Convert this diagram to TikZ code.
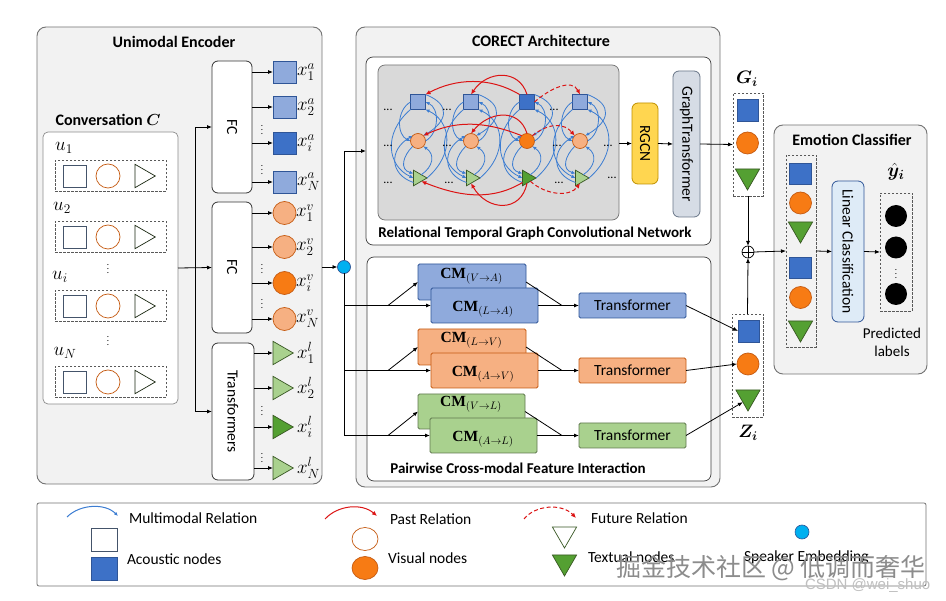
\RequirePackage{fix-cm}
\documentclass[tikz,border=0pt]{standalone}
\usepackage{amsmath}
\usepackage{bm}
\usepackage{fontspec}
\setmainfont{Carlito}
\newfontfamily\cjk{Noto Sans CJK SC}
\newfontfamily\serifb{Liberation Serif}
\newfontfamily\lsans{Liberation Sans}
\usetikzlibrary{arrows.meta,calc,shapes.geometric}
\definecolor{acoL}{RGB}{143,170,220}
\definecolor{acoD}{RGB}{61,113,199}
\definecolor{acoB}{RGB}{47,85,151}
\definecolor{visL}{RGB}{246,176,130}
\definecolor{visD}{RGB}{247,123,20}
\definecolor{visB}{RGB}{197,90,17}
\definecolor{texL}{RGB}{169,209,142}
\definecolor{texD}{RGB}{84,160,50}
\definecolor{texB}{RGB}{56,87,35}
\definecolor{spkC}{RGB}{0,176,240}
\definecolor{rgcnF}{RGB}{255,214,80}
\definecolor{rgcnB}{RGB}{191,144,0}
\definecolor{gtfF}{RGB}{214,220,229}
\definecolor{lclF}{RGB}{222,235,247}
\definecolor{panelF}{RGB}{242,242,242}
\definecolor{graphF}{RGB}{217,217,217}
\definecolor{relR}{RGB}{220,20,20}
\definecolor{relB}{RGB}{60,125,210}
\definecolor{slate}{RGB}{68,84,106}
\newcommand\cmlab[2]{$\text{\serifb\bfseries CM}_{(#1\rightarrow #2)}$}
\begin{document}
\begin{tikzpicture}[x=1pt,y=-1pt,>={Latex[length=5pt,width=4pt]},
  every node/.style={inner sep=0pt,outer sep=0pt},
  panel/.style={draw=black!55,fill=panelF,rounded corners=9pt,line width=0.9pt},
  inbox/.style={draw=black!75,fill=white,rounded corners=7pt,line width=0.7pt},
  ttl/.style={font=\fontsize{16}{19}\selectfont\bfseries},
  txt/.style={font=\fontsize{15.5}{18}\selectfont},
  mlab/.style={font=\fontsize{19}{21}\selectfont},
  cml/.style={font=\fontsize{15.5}{18}\selectfont},
  vd/.style={font=\fontsize{9}{10}\selectfont},
  gdots/.style={font=\fontsize{12}{14}\selectfont},
  wbox/.style={draw=black!80,fill=white,rounded corners=6pt,line width=0.8pt,rotate=-90,font=\fontsize{15.5}{18}\selectfont},
  dbox/.style={draw=black!65,line width=0.6pt,dash pattern=on 2.5pt off 1.5pt},
  sqL/.style={rectangle,draw=acoB,fill=acoL,line width=0.7pt,minimum width=23,minimum height=22},
  ciL/.style={circle,draw=visB,fill=visL,line width=0.7pt,minimum size=23},
  trR/.style={regular polygon,regular polygon sides=3,shape border rotate=-90,draw=texB,fill=texL,line width=0.7pt,minimum size=27},
  trDn/.style={regular polygon,regular polygon sides=3,shape border rotate=180,draw=texB,fill=texD,line width=0.7pt,minimum size=28},
  cmbox/.style={rectangle,line width=0.8pt,rounded corners=1.5pt},
  cn/.style={draw=black,line width=0.8pt,->},
  ln/.style={draw=black,line width=0.8pt},
  bl/.style={draw=relB,line width=0.8pt,-{Latex[length=4pt,width=3.5pt]}},
  rd/.style={draw=relR,line width=1pt,-{Latex[length=5pt,width=4.5pt]}},
  rdd/.style={rd,dash pattern=on 4pt off 2.5pt}]
\useasboundingbox (0,0) rectangle (946,601);
\fill[white] (0,0) rectangle (946,601);

% ================= Unimodal encoder =================
\node[panel,minimum width=285,minimum height=457] (enc) at (179.5,255.5) {};
\node[ttl] (encT) at (174,42) {Unimodal Encoder};
\node[ttl] (convT) at (108,120) {Conversation $\bm{C}$};
\node[inbox,draw=black!45,rounded corners=5pt,minimum width=135,minimum height=272] (conv) at (110.5,268) {};
\foreach \r/\yy/\lab/\lx/\ly in {1/176/u_1/64/148,2/237/u_2/62/208,3/306/u_i/60/277,4/382/u_N/65/353}{
  \node[dbox,minimum width=111,minimum height=31] (du\r) at (110.5,\yy) {};
  \node[sqL,fill=white,draw=slate] (us\r) at (74.5,\yy) {};
  \node[ciL,fill=white,minimum size=24] (uc\r) at (108,\yy) {};
  \node[trR,fill=white,draw=black!55!texB] (ut\r) at (141.75,\yy) {};
  \node[mlab] (ul\r) at (\lx,\ly) {$\lab$};
}
\node[vd] (cd1) at (108,266) {$\vdots$};
\node[vd] (cd2) at (108,338) {$\vdots$};

\node[wbox,minimum width=132,minimum height=40] (fc1) at (232,127) {FC};
\node[wbox,minimum width=131,minimum height=40] (fc2) at (232,267.5) {FC};
\node[wbox,minimum width=137,minimum height=42] (tr) at (233,411.5) {Transformers};
\coordinate (j) at (195,268);
\draw[cn] (conv.east) -- (fc2.south);
\draw[cn] (j) |- (fc1.south);
\draw[cn] (j) |- (tr.south);

\foreach \i/\yy/\fa/\sub in {1/72/acoL/1,2/107/acoL/2,3/143/acoD/i,4/182/acoL/N}{
  \node[sqL,fill=\fa] (a\i) at (284.5,\yy) {};
  \node[mlab,anchor=west] (xa\i) at (297,\yy) {$x_{\sub}^{a}$};
  \draw[cn] (fc1.north |- a\i) -- (a\i.west);
}
\foreach \i/\yy/\fv/\sub in {1/213/visL/1,2/247/visL/2,3/283/visD/i,4/319/visL/N}{
  \node[ciL,fill=\fv] (v\i) at (284.5,\yy) {};
  \node[mlab,anchor=west] (xv\i) at (296,\yy) {$x_{\sub}^{v}$};
  \draw[cn] (fc2.north |- v\i) -- (v\i.west);
}
\foreach \i/\yy/\ft/\sub in {1/353/texL/1,2/388/texL/2,3/427/texD/i,4/468/texL/N}{
  \node[trR,fill=\ft] (l\i) at (279.75,\yy) {};
  \node[mlab,anchor=west] (xl\i) at (297,\yy) {$x_{\sub}^{l}$};
  \draw[cn] (tr.north |- l\i) -- (l\i.west);
}
\node[vd] (ad1) at (262,127) {$\vdots$};
\node[vd] (ad2) at (262,167) {$\vdots$};
\node[vd] (vd1) at (262,266) {$\vdots$};
\node[vd] (vd2) at (262,301) {$\vdots$};
\node[vd] (ld1) at (262,408) {$\vdots$};
\node[vd] (ld2) at (262,455) {$\vdots$};

\node[circle,draw=acoB,fill=spkC,minimum size=13,line width=0.7pt] (spk) at (344,267) {};
\draw[cn] (enc.east |- spk) -- (spk.west);

% ================= CORECT =================
\node[panel,minimum width=364,minimum height=460] (cor) at (538,257) {};
\node[ttl] (corT) at (541,41) {CORECT Architecture};
\node[inbox,minimum width=345,minimum height=188] (rel) at (538.5,151) {};
\node[inbox,minimum width=344,minimum height=224] (pw) at (539,369) {};
\node[draw=black!55,fill=graphF,rounded corners=7pt,minimum width=241,minimum height=155,line width=0.7pt] (gb) at (498.5,142.5) {};
\node[ttl,font=\fontsize{15}{18}\selectfont\bfseries] (relT) at (535,233) {Relational Temporal Graph Convolutional Network};
\node[ttl,font=\fontsize{15}{18}\selectfont\bfseries] (pwT) at (518,468) {Pairwise Cross-modal Feature Interaction};

% graph nodes
\foreach \c/\xx/\fa/\fv/\ft in {1/418/acoL/visL/texL,2/471/acoL/visL/texL,3/527/acoD/visD/texD,4/580/acoL/visL/texL}{
  \node[sqL,fill=\fa,minimum width=15,minimum height=15] (s\c) at (\xx,102) {};
  \node[ciL,fill=\fv,minimum size=15] (c\c) at (\xx,141) {};
  \node[trR,fill=\ft,minimum size=18] (t\c) at (\xx,178) {};
}
\foreach \c in {1,2,3,4}{
  \draw[bl] (s\c.west) .. controls +(-14,8) and +(-14,-6) .. (c\c.west);
  \draw[bl] (s\c.south west) .. controls +(-28,24) and +(-26,-12) .. (t\c.west);
  \draw[bl] (c\c.south west) .. controls +(-10,10) and +(-14,-4) .. (t\c.north west);
  \draw[bl] (t\c.south west) .. controls +(-24,-8) and +(-24,14) .. (c\c.north west);
  \draw[bl] (c\c.east) .. controls +(14,-8) and +(14,6) .. (s\c.east);
  \draw[bl] (t\c.east) .. controls +(28,-24) and +(26,12) .. (s\c.south east);
  \draw[bl] (t\c.north east) .. controls +(12,-8) and +(12,8) .. (c\c.south east);
  \draw[bl] (s\c.north east) .. controls +(26,10) and +(24,-14) .. (c\c.north east);
}
\draw[rd] (s3.north west) .. controls +(-30,-18) and +(30,-16) .. (s1.north east);
\draw[rd] (s3.north) .. controls +(-8,-26) and +(16,-24) .. (s2.north);
\draw[rdd] (s3.east) .. controls +(16,-14) and +(-8,-16) .. (s4.north);
\draw[rd] (c3.north west) .. controls +(-40,-16) and +(30,-14) .. (c1.north east);
\draw[rd] (c3.north) .. controls +(-8,-26) and +(18,-22) .. (c2.north);
\draw[rdd] (c3.north east) .. controls +(18,-14) and +(-10,-12) .. (c4.north west);
\draw[rd] (t3.south west) .. controls +(-30,18) and +(40,16) .. (t1.south east);
\draw[rd] (t3.south) .. controls +(-6,30) and +(16,28) .. (t2.south);
\draw[rdd] (t3.south east) .. controls +(16,14) and +(-10,14) .. (t4.south);
\foreach \n/\px/\py in {g1/388/110,g2/447/110,g3/554/110,g4/388/146,g5/447/146,g6/557/146,g7/608/146,g8/388/183,g9/449/183,g10/559/183,g11/612/178}{
  \node[gdots] (\n) at (\px,\py) {...};
}

\node[wbox,fill=rgcnF,draw=rgcnB,minimum width=81,minimum height=26] (rg) at (645,143.5) {RGCN};
\node[wbox,fill=gtfF,draw=slate!80,minimum width=146,minimum height=27] (gt) at (686.5,144) {GraphTransformer};
\draw[cn] (gb.east |- rg.south) -- (rg.south);
\draw[cn] (rg.north) -- (gt.south);

% cross-modal
\node[cmbox,draw=acoB,fill=acoL,minimum width=108,minimum height=36] (cmb1) at (472,282) {};
\node[cml,anchor=base] (cmb1t) at (471.5,279) {\cmlab{V}{A}};
\node[cmbox,draw=acoB,fill=acoL,minimum width=107,minimum height=35] (cmf1) at (484.5,305.5) {};
\node[cml,anchor=base] (cmf1t) at (483,312) {\cmlab{L}{A}};
\node[cmbox,draw=visB,fill=visL,minimum width=108,minimum height=36] (cmb2) at (472,347) {};
\node[cml,anchor=base] (cmb2t) at (471.5,343) {\cmlab{L}{V}};
\node[cmbox,draw=visB,fill=visL,minimum width=107,minimum height=35] (cmf2) at (484.5,370.5) {};
\node[cml,anchor=base] (cmf2t) at (483,377) {\cmlab{A}{V}};
\node[cmbox,draw=texB!80,fill=texL,minimum width=107,minimum height=35] (cmb3) at (471.5,411.5) {};
\node[cml,anchor=base] (cmb3t) at (471,407) {\cmlab{V}{L}};
\node[cmbox,draw=texB!80,fill=texL,minimum width=107,minimum height=35] (cmf3) at (483.5,435.5) {};
\node[cml,anchor=base] (cmf3t) at (483,442) {\cmlab{A}{L}};

\node[cmbox,draw=acoB,fill=acoL,minimum width=107,minimum height=25,txt] (tf1) at (632.5,305.5) {Transformer};
\node[cmbox,draw=visB,fill=visL,minimum width=107,minimum height=25,txt] (tf2) at (632.5,370.5) {Transformer};
\node[cmbox,draw=texB!80,fill=texL,minimum width=107,minimum height=25,txt] (tf3) at (632.5,435.5) {Transformer};

\coordinate (m1) at (562,305.5);
\coordinate (m2) at (562,370.5);
\coordinate (m3) at (562,435.5);
\draw[ln] (cmb1.east) -- (m1);
\draw[ln] (cmb2.east) -- (m2);
\draw[ln] (cmb3.east) -- (m3);
\draw[cn] (cmf1.east) -- (tf1.west);
\draw[cn] (cmf2.east) -- (tf2.west);
\draw[cn] (cmf3.east) -- (tf3.west);

% speaker links
\coordinate (b1) at (388,305.5);
\coordinate (b2) at (388,370.5);
\coordinate (b3) at (388,435.5);
\draw[cn] (spk.north) |- (rel.west);
\draw[ln] (spk.south) -- (spk.south |- b3) -- (b3);
\draw[ln] (spk.south |- b1) -- (b1);
\draw[ln] (spk.south |- b2) -- (b2);
\draw[cn] (b1) -- (cmf1.west);
\draw[cn] (b2) -- (cmf2.west);
\draw[cn] (b3) -- (cmf3.west);
\draw[cn] (b1) -- (cmb1.west);
\draw[cn] (b2) -- (cmb2.west);
\draw[cn] (b3) -- (cmb3.west);

% ================= G_i / Z_i =================
\node[dbox,minimum width=30,minimum height=103] (gd) at (748,144.5) {};
\node[sqL,fill=acoD,minimum width=21,minimum height=22] (g1) at (747.5,110) {};
\node[ciL,fill=visD,minimum size=22] (g2) at (747.5,143) {};
\node[trDn] (g3) at (747.5,176) {};
\node[font=\fontsize{18}{20}\selectfont] (gT) at (747,79) {$\bm{G_i}$};
\draw[cn] (gt.north) -- (gd.west);

\node[circle,draw=black,minimum size=12,line width=0.7pt] (pl) at (748,252) {};
\draw[line width=0.7pt] (pl.north) -- (pl.south) (pl.west) -- (pl.east);

\node[dbox,minimum width=31,minimum height=103] (zd) at (747.5,365.5) {};
\node[sqL,fill=acoD,minimum width=21,minimum height=22] (z1) at (748.5,331) {};
\node[ciL,fill=visD,minimum size=22] (z2) at (748,364) {};
\node[trDn] (z3) at (748,397) {};
\node[font=\fontsize{18}{20}\selectfont] (zT) at (748,433) {$\bm{Z_i}$};
\draw[cn] (tf1.east) -- (z1.west);
\draw[cn] (tf2.east) -- (z2.west);
\draw[cn] (tf3.east) -- (z3.south west);
\draw[cn] (gd.south) -- (pl.north);
\draw[cn] (zd.north) -- (pl.south);

% ================= Emotion classifier =================
\node[panel,minimum width=153,minimum height=249] (ec) at (850.5,249.5) {};
\node[ttl] (ecT) at (852,140) {Emotion Classifier};
\node[dbox,minimum width=30,minimum height=192] (ecd) at (801,251) {};
\node[sqL,fill=acoD,minimum width=22,minimum height=21] (e1) at (800.5,173.5) {};
\node[ciL,fill=visD,minimum size=22] (e2) at (800.5,203) {};
\node[trDn] (e3) at (800.5,229) {};
\node[sqL,fill=acoD,minimum width=22,minimum height=21] (e4) at (800.5,267.5) {};
\node[ciL,fill=visD,minimum size=22] (e5) at (800.5,297.5) {};
\node[trDn] (e6) at (800.5,328) {};
\node[wbox,fill=lclF,draw=acoB,minimum width=141,minimum height=32] (lc) at (848,251.5) {Linear Classification};
\node[dbox,minimum width=32,minimum height=118] (pd) at (896,252) {};
\node[circle,fill=black,minimum size=22] (p1) at (896,216) {};
\node[circle,fill=black,minimum size=22] (p2) at (896,247.5) {};
\node[vd] (pdd) at (896,271) {$\vdots$};
\node[circle,fill=black,minimum size=22] (p3) at (896,294) {};
\node[font=\fontsize{19}{21}\selectfont] (yT) at (896,172) {$\hat{\bm{y}}_{\bm{i}}$};
\node[txt,align=center,font=\fontsize{15}{18}\selectfont] (predT) at (892,342) {Predicted\\labels};
\draw[cn] (pl.east) -- (ecd.west);
\draw[cn] (ecd.east) -- (lc.south);
\draw[cn] (lc.north) -- (pd.west);

% ================= Legend =================
\node[draw=black!55,fill=white,rounded corners=2pt,minimum width=889,minimum height=83,line width=0.8pt] (lg) at (481.5,544.5) {};
\coordinate (lma) at (67,517);
\coordinate (lmb) at (118,516);
\draw[bl,line width=1pt] (lma) .. controls (80,504) and (105,503) .. (lmb);
\node[txt,anchor=west] (lmT) at (129,518) {Multimodal Relation};
\coordinate (lpa) at (325,519);
\coordinate (lpb) at (377,516);
\draw[rd] (lpa) .. controls (338,505) and (362,503) .. (lpb);
\node[txt,anchor=west] (lpT) at (390,519) {Past Relation};
\coordinate (lfa) at (524,519);
\coordinate (lfb) at (576,518);
\draw[rdd] (lfa) .. controls (535,505) and (562,503) .. (lfb);
\node[txt,anchor=west] (lfT) at (591,518) {Future Relation};
\node[sqL,fill=white,draw=slate,minimum width=26,minimum height=23] (lq1) at (104,539.5) {};
\node[sqL,fill=acoD,minimum width=26,minimum height=23] (lq2) at (104,569) {};
\node[txt,anchor=west] (laT) at (127,559) {Acoustic nodes};
\node[ellipse,draw=visB,fill=white,minimum width=26,minimum height=23,line width=0.7pt] (lo1) at (365,539) {};
\node[ellipse,draw=visB,fill=visD,minimum width=26,minimum height=23,line width=0.7pt] (lo2) at (365,568) {};
\node[txt,anchor=west] (lvT) at (388,558) {Visual nodes};
\node[trDn,fill=white] (lt1) at (564.5,534) {};
\node[trDn] (lt2) at (564.5,562) {};
\node[txt,anchor=west] (ltT) at (588,557) {Textual nodes};
\node[circle,draw=acoB,fill=spkC,minimum size=14,line width=0.6pt] (ls) at (802,532) {};
\node[txt,anchor=west] (lsT) at (744,557) {Speaker Embedding};

% watermark
\node[anchor=west,text=black!45,font=\cjk\fontsize{25}{28}\selectfont] (wm1) at (616,568) {掘金技术社区 @ 低调而奢华};
\node[anchor=west,text=black!25,font=\lsans\fontsize{15}{17}\selectfont] (wm2) at (805,586) {CSDN @wei\_shuo};
\end{tikzpicture}
\end{document}
